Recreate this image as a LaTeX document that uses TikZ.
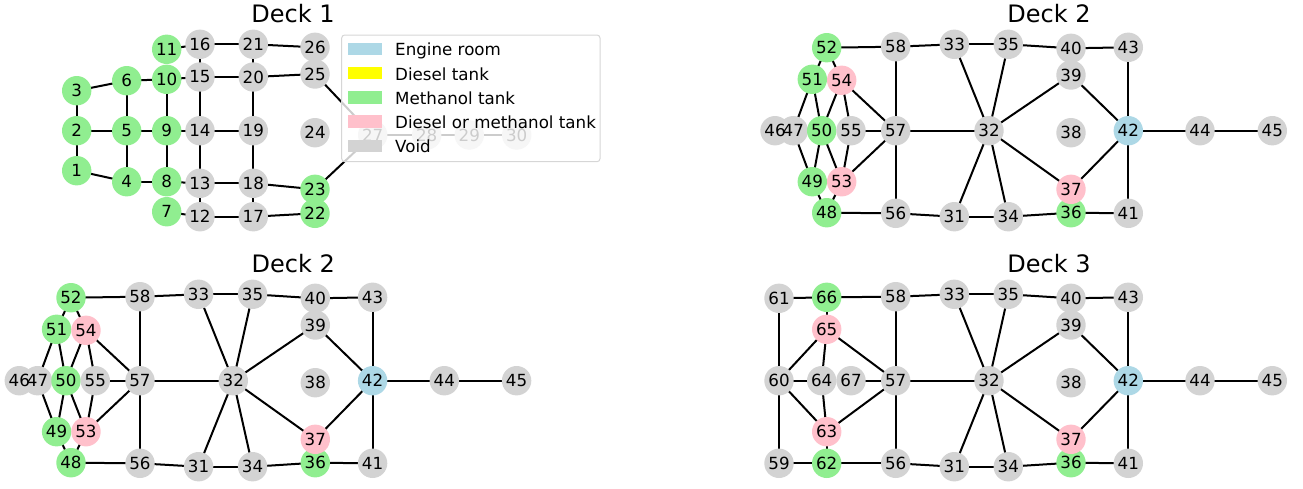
\documentclass[tikz,border=0pt]{standalone}
\usepackage{fontspec}
\setmainfont{DejaVu Sans}
\pgfdeclarelayer{edges}
\pgfdeclarelayer{discs}
\pgfdeclarelayer{fg}
\pgfsetlayers{edges,discs,main,fg}
\definecolor{engine}{HTML}{ADD8E6}
\definecolor{diesel}{HTML}{FFFF00}
\definecolor{methanol}{HTML}{90EE90}
\definecolor{either}{HTML}{FFC0CB}
\definecolor{void}{HTML}{D3D3D3}
\definecolor{legframe}{HTML}{D6D6D6}
\tikzset{
  vlabel/.style={inner sep=0pt, font=\fontsize{16.7}{20}\selectfont},
  conn/.style={line width=2pt, black},
  decktitle/.style={inner sep=0pt, anchor=base, font=\fontsize{24}{28}\selectfont},
  legendframe/.style={draw=legframe, line width=1pt, fill=white, fill opacity=0.8, rounded corners=3pt, inner sep=0pt},
  legpatch/.style={inner sep=0pt, minimum width=33.4pt, minimum height=12.3pt},
  legtext/.style={inner sep=0pt, anchor=base west, font=\fontsize{16.7}{20}\selectfont},
}
% prefix, number, x, y, colour
\newcommand\V[5]{%
  \node[vlabel] (#1#2) at (#3,#4) {#2};
  \begin{pgfonlayer}{discs}\fill[#5] (#1#2.center) circle[radius=14.7pt];\end{pgfonlayer}}
% prefix, list of edges
\newcommand\Edges[2]{%
  \begin{pgfonlayer}{edges}
  \foreach \ua/\ub in {#2} {\draw[conn] (#1\ua.center) -- (#1\ub.center);}
  \end{pgfonlayer}}
\newcommand\RightPart[1]{%
  \V{#1}{31}{954.3}{216.7}{void}
  \V{#1}{32}{989}{130.7}{void}
  \V{#1}{33}{954.3}{44.3}{void}
  \V{#1}{34}{1008.3}{216.7}{void}
  \V{#1}{35}{1008.3}{44.3}{void}
  \V{#1}{36}{1071}{212.7}{methanol}
  \V{#1}{37}{1071}{189.3}{either}
  \V{#1}{38}{1071}{132.7}{void}
  \V{#1}{39}{1071}{75}{void}
  \V{#1}{40}{1071}{48.3}{void}
  \V{#1}{41}{1128.3}{213.3}{void}
  \V{#1}{42}{1128.3}{130.7}{engine}
  \V{#1}{43}{1128.3}{47.3}{void}
  \V{#1}{44}{1200}{130.7}{void}
  \V{#1}{45}{1272.3}{130.7}{void}
  \V{#1}{56}{895.7}{213.3}{void}
  \V{#1}{57}{895.7}{130.7}{void}
  \V{#1}{58}{895.7}{46.7}{void}
  \Edges{#1}{33/35,35/40,40/43,33/32,35/32,32/39,32/37,32/31,32/34,31/34,34/36,36/41,39/42,37/42,43/42,41/42,42/44,44/45,58/33,56/31,57/32,58/57,57/56}}
\newcommand\LeftTwo[1]{%
  \V{#1}{46}{775}{130.7}{void}
  \V{#1}{47}{793.3}{130.7}{void}
  \V{#1}{48}{826.7}{212.7}{methanol}
  \V{#1}{49}{812.3}{181.7}{methanol}
  \V{#1}{50}{821.7}{130.7}{methanol}
  \V{#1}{51}{812.3}{79.3}{methanol}
  \V{#1}{52}{826.7}{47.7}{methanol}
  \V{#1}{53}{841.7}{181.7}{either}
  \V{#1}{54}{841.7}{80.3}{either}
  \V{#1}{55}{851}{130.7}{void}
  \Edges{#1}{52/58,52/51,52/54,51/47,51/50,54/50,54/55,54/57,47/49,50/49,50/53,55/53,55/57,53/57,49/48,53/48,48/56}}
\begin{document}
\begin{tikzpicture}[x=1pt,y=-1pt]
\useasboundingbox (0,0) rectangle (1303,488);
% ---------------- Deck 1 ----------------
\V{a}{1}{76.7}{170.7}{methanol}
\V{a}{2}{76.7}{130.7}{methanol}
\V{a}{3}{76.7}{90.7}{methanol}
\V{a}{4}{126.7}{181.7}{methanol}
\V{a}{5}{126.7}{130.7}{methanol}
\V{a}{6}{126.7}{80.7}{methanol}
\V{a}{7}{166.7}{211.7}{methanol}
\V{a}{8}{166.7}{181.7}{methanol}
\V{a}{9}{166.7}{130.7}{methanol}
\V{a}{10}{166.7}{79.3}{methanol}
\V{a}{11}{166.7}{49.3}{methanol}
\V{a}{12}{200}{216.7}{void}
\V{a}{13}{200}{183.3}{void}
\V{a}{14}{200}{130.7}{void}
\V{a}{15}{200}{77}{void}
\V{a}{16}{200}{44.3}{void}
\V{a}{17}{253.3}{216.7}{void}
\V{a}{18}{253.3}{183.3}{void}
\V{a}{19}{253.3}{130.7}{void}
\V{a}{20}{253.3}{77}{void}
\V{a}{21}{253.3}{44.3}{void}
\V{a}{22}{315}{213.3}{methanol}
\V{a}{23}{315}{189.3}{methanol}
\V{a}{24}{315}{132.7}{void}
\V{a}{25}{315}{74}{void}
\V{a}{26}{315}{47.3}{void}
\V{a}{27}{372.7}{135}{void}
\V{a}{28}{426.7}{135}{void}
\V{a}{29}{469.3}{135}{void}
\V{a}{30}{516.7}{135}{void}
\Edges{a}{3/6,3/2,2/1,2/5,1/4,6/5,5/4,6/10,5/9,4/8,10/9,9/8,11/16,10/15,9/14,8/13,7/12,16/21,21/26,15/20,20/25,16/15,15/14,14/13,13/12,21/20,20/19,19/18,18/17,14/19,13/18,12/17,18/23,17/22,25/27,23/27,27/28,28/29,29/30}
\node[decktitle] (title1) at (293,22.7) {Deck 1};
% legend
\begin{pgfonlayer}{fg}
\node[legendframe, minimum width=258.3pt, minimum height=126.7pt] (legend) at (470.85,98.35) {};
\node[legpatch, fill=engine] (lp1) at (365,48.8) {};
\node[legpatch, fill=diesel] (lp2) at (365,73.2) {};
\node[legpatch, fill=methanol] (lp3) at (365,97.4) {};
\node[legpatch, fill=either] (lp4) at (365,121.6) {};
\node[legpatch, fill=void] (lp5) at (365,145.9) {};
\node[legtext] (lt1) at (395,55.7) {Engine room};
\node[legtext] (lt2) at (395,80.1) {Diesel tank};
\node[legtext] (lt3) at (395,104.3) {Methanol tank};
\node[legtext] (lt4) at (395,128.5) {Diesel or methanol tank};
\node[legtext] (lt5) at (395,152.8) {Void};
\end{pgfonlayer}
% ---------------- Deck 2 (top right) ----------------
\RightPart{b}
\LeftTwo{b}
\node[decktitle] (title2) at (1049,22.7) {Deck 2};
% ---------------- Deck 2 (bottom left) ----------------
\begin{scope}[shift={(-755.7,250)}]
\RightPart{c}
\LeftTwo{c}
\node[decktitle] (title3) at (1049,22.7) {Deck 2};
\end{scope}
% ---------------- Deck 3 (bottom right) ----------------
\begin{scope}[shift={(0,250)}]
\RightPart{d}
\V{d}{59}{779}{213.3}{void}
\V{d}{60}{779}{130.7}{void}
\V{d}{61}{779}{48.3}{void}
\V{d}{62}{826.7}{213.3}{methanol}
\V{d}{63}{826.7}{181.7}{either}
\V{d}{64}{821.7}{130.7}{void}
\V{d}{65}{826.7}{79.3}{either}
\V{d}{66}{826.7}{47.3}{methanol}
\V{d}{67}{851}{130.7}{void}
\Edges{d}{61/66,66/58,61/60,66/65,65/60,65/64,65/57,60/64,60/63,60/59,64/63,67/57,63/57,63/62,59/62,62/56}
\node[decktitle] (title4) at (1049,22.7) {Deck 3};
\end{scope}
\end{tikzpicture}
\end{document}
